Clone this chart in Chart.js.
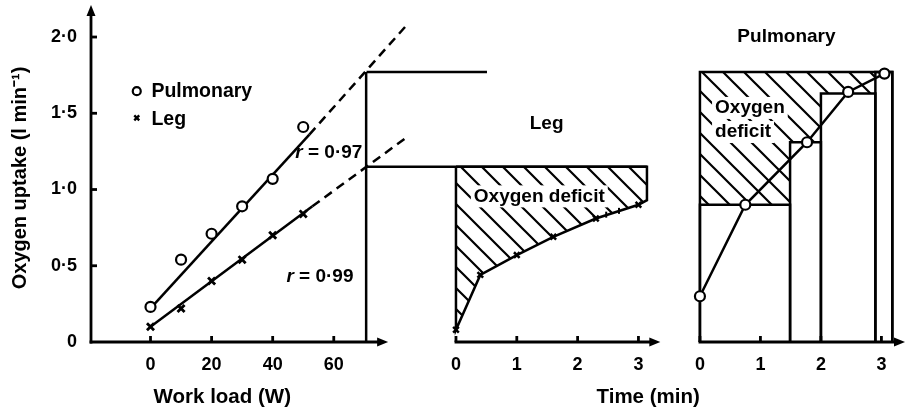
<!DOCTYPE html>
<html><head><meta charset="utf-8">
<script src="https://cdn.jsdelivr.net/npm/chart.js@4.4.1/dist/chart.umd.min.js"></script>
<style>html,body{margin:0;padding:0;background:#fff;} #wrap{width:913px;height:407px;position:relative}</style>
</head><body><div id="wrap"><canvas id="c" width="913" height="407"></canvas></div>
<script>
// ---------- values ----------
// Left panel: oxygen uptake vs work load
const workLoad     = [0, 10, 20, 30, 40, 50];
const pulmUptakeW  = [0.23, 0.54, 0.71, 0.89, 1.07, 1.41];
const legUptakeW   = [0.10, 0.22, 0.40, 0.54, 0.70, 0.84];
// regression lines (solid part then dashed extrapolation)
const pulmFitW     = [0, 52, 84.4];
const pulmFitV     = [0.22, 1.36, 2.09];
const legFitW      = [0, 53, 84.4];
const legFitV      = [0.10, 0.89, 1.35];
// work-load step and steady states
const stepLoad     = 70.6;
const pulmSteady   = 1.77;
const legSteady    = 1.15;

// Middle panel: leg oxygen uptake vs time (min)
const legTime      = [0, 0.4, 1.0, 1.6, 2.3, 3.0];
const legUptakeT   = [0.08, 0.44, 0.57, 0.69, 0.81, 0.90];
const legMinorTime = [2.47, 2.68];
const legMinorV    = [0.835, 0.86];
const legBoxEndT   = 3.14;
const legBoxEndV   = 0.93;
const steadyStartT = -1.47;   // where the steady-state lines leave the step
const pulmSteadyEndT = 0.51;

// Right panel: pulmonary oxygen uptake vs time (min)
const pulmTime     = [0, 0.75, 1.77, 2.45, 3.05];
const pulmUptakeT  = [0.30, 0.90, 1.31, 1.64, 1.76];
const stepEdges    = [0, 1.49, 2.0, 2.9, 3.18];
const stepLevels   = [0.90, 1.31, 1.63, 1.77];

// ticks
const yTicks       = [0, 0.5, 1.0, 1.5, 2.0];
const yTickLabels  = ['0', '0·5', '1·0', '1·5', '2·0'];
const workTicks    = [0, 20, 40, 60];
const timeTicks    = [0, 1, 2, 3];

// ---------- helpers ----------
const FAM = '"Liberation Sans", Arial, Helvetica, sans-serif';
const pts = (xs, ys) => xs.map((x, i) => ({x, y: ys[i]}));

function hatchPattern() {
  const s = 21, c = document.createElement('canvas');
  c.width = s; c.height = s;
  const g = c.getContext('2d');
  g.strokeStyle = '#000'; g.lineWidth = 2.2;
  g.beginPath();
  g.moveTo(-2, -2); g.lineTo(s + 2, s + 2);
  g.moveTo(s - 3, -3); g.lineTo(s + 3, 3);
  g.moveTo(-3, s - 3); g.lineTo(3, s + 3);
  g.stroke();
  return g.createPattern(c, 'repeat');
}
const HATCH = hatchPattern();

const lineDS = (axis, data, extra) => Object.assign({
  xAxisID: axis, yAxisID: 'y', data, showLine: true, borderColor: '#000',
  borderWidth: 2.5, pointRadius: 0, fill: false, tension: 0, order: 1, clip: false
}, extra || {});

// leg deficit polygon (closed)
const legCurve = pts(legTime, legUptakeT);
const legPoly = [{x: 0, y: legSteady}, {x: legBoxEndT, y: legSteady}, {x: legBoxEndT, y: legBoxEndV}]
  .concat(legCurve.slice().reverse()).concat([{x: 0, y: legSteady}]);

// pulmonary deficit polygon (above the steps)
const pulmPoly = [{x: 0, y: pulmSteady}, {x: stepEdges[stepEdges.length - 2], y: pulmSteady}];
for (let i = stepLevels.length - 2; i >= 0; i--) {
  pulmPoly.push({x: stepEdges[i + 1], y: stepLevels[i]});
  pulmPoly.push({x: stepEdges[i], y: stepLevels[i]});
}
pulmPoly.push({x: 0, y: pulmSteady});

const rectSets = stepLevels.map((h, i) => lineDS('x3', [
  {x: stepEdges[i], y: 0}, {x: stepEdges[i], y: h},
  {x: stepEdges[i + 1], y: h}, {x: stepEdges[i + 1], y: 0}]));

const datasets = [
  // markers (drawn on top)
  lineDS('x1', pts(workLoad, pulmUptakeW), {showLine: false, pointStyle: 'circle', pointRadius: 5,
    pointBackgroundColor: '#fff', pointBorderColor: '#000', pointBorderWidth: 2.2, order: 0}),
  lineDS('x1', pts(workLoad, legUptakeW), {showLine: false, pointStyle: 'crossRot', pointRadius: 5,
    pointBorderColor: '#000', pointBorderWidth: 2.8, order: 0}),
  lineDS('x2', legCurve, {showLine: false, pointStyle: 'crossRot', pointRadius: 4,
    pointBorderColor: '#000', pointBorderWidth: 2.5, order: 0}),
  lineDS('x2', pts(legMinorTime, legMinorV), {showLine: false, pointStyle: 'line', rotation: 90, pointRadius: 3,
    pointBorderColor: '#000', pointBorderWidth: 2, order: 0}),
  lineDS('x3', pts(pulmTime, pulmUptakeT), {pointStyle: 'circle', pointRadius: 5,
    pointBackgroundColor: '#fff', pointBorderColor: '#000', pointBorderWidth: 2.2, order: 0}),
  // regression lines
  lineDS('x1', pts(pulmFitW.slice(0, 2), pulmFitV.slice(0, 2))),
  lineDS('x1', pts(pulmFitW.slice(1), pulmFitV.slice(1)), {borderDash: [9, 6]}),
  lineDS('x1', pts(legFitW.slice(0, 2), legFitV.slice(0, 2))),
  lineDS('x1', pts(legFitW.slice(1), legFitV.slice(1)), {borderDash: [9, 6]}),
  // step in work load
  lineDS('x1', [{x: stepLoad, y: 0}, {x: stepLoad, y: pulmSteady}]),
  lineDS('x2', [{x: steadyStartT, y: pulmSteady}, {x: pulmSteadyEndT, y: pulmSteady}]),
  lineDS('x2', [{x: steadyStartT, y: legSteady}, {x: legBoxEndT, y: legSteady}]),
  // leg oxygen deficit
  lineDS('x2', legPoly, {fill: 'shape', backgroundColor: HATCH, order: 2}),
  // pulmonary panel
  lineDS('x3', [{x: 0, y: 0}, {x: 0, y: pulmSteady}, {x: stepEdges[stepEdges.length - 1], y: pulmSteady},
    {x: stepEdges[stepEdges.length - 1], y: 0}]),
  ...rectSets,
  lineDS('x3', pulmPoly, {fill: 'shape', backgroundColor: HATCH, borderWidth: 0, order: 3})
];

// positions of annotations / axis ends (layout, not data)
const axisEnds = {yTop: 2.21, x1End: 77.8, x2End: 3.36, x3End: 3.39};

const tickFont = {family: FAM, size: 18, weight: 'bold'};
function xScale(min, max, weight, ticks) {
  return {
    type: 'linear', axis: 'x', position: 'bottom', stack: 'panels', stackWeight: weight,
    min, max,
    afterBuildTicks: s => { s.ticks = ticks.map(v => ({value: v})); },
    afterFit: s => { s.height = 65; s.paddingLeft = 0; s.paddingRight = 0; },
    grid: {display: false, drawTicks: false}, border: {display: false},
    ticks: {padding: 12, font: tickFont, color: '#000', maxRotation: 0, autoSkip: false}
  };
}

const overlay = {
  id: 'overlay',
  beforeDatasetsDraw(chart) {
    const {ctx, chartArea} = chart;
    const {y, x1, x2, x3} = chart.scales;
    const y0 = y.getPixelForValue(0);
    ctx.save();
    ctx.strokeStyle = '#000'; ctx.fillStyle = '#000'; ctx.lineWidth = 2.8; ctx.lineCap = 'butt';
    const seg = (a, b, c, d) => { ctx.beginPath(); ctx.moveTo(a, b); ctx.lineTo(c, d); ctx.stroke(); };
    const arrowUp = (x, tip) => { ctx.beginPath(); ctx.moveTo(x, tip); ctx.lineTo(x - 4.5, tip + 11); ctx.lineTo(x + 4.5, tip + 11); ctx.closePath(); ctx.fill(); };
    const arrowRight = (tip, yy) => { ctx.beginPath(); ctx.moveTo(tip, yy); ctx.lineTo(tip - 11, yy - 4.5); ctx.lineTo(tip - 11, yy + 4.5); ctx.closePath(); ctx.fill(); };
    // y axis
    const lx = chartArea.left;
    const yTip = y.getPixelForValue(axisEnds.yTop);
    seg(lx, y0 + 1.4, lx, yTip + 8);
    arrowUp(lx, yTip);
    yTicks.forEach(v => { if (v > 0) { const p = y.getPixelForValue(v); seg(lx, p, lx + 6, p); } });
    // x axes
    const xa = (sc, start, end, ticks) => {
      const s = start === null ? lx : sc.getPixelForValue(start);
      const e = sc.getPixelForValue(end);
      seg(s - 1.4, y0, e - 8, y0);
      arrowRight(e, y0);
      ticks.forEach(v => { const p = sc.getPixelForValue(v); seg(p, y0, p, y0 - 6); });
    };
    xa(x1, null, axisEnds.x1End, workTicks);
    xa(x2, 0, axisEnds.x2End, timeTicks);
    xa(x3, 0, axisEnds.x3End, timeTicks);
    ctx.restore();
  },
  afterDatasetsDraw(chart) {
    const {ctx} = chart;
    const {y, x1, x2, x3} = chart.scales;
    ctx.save();
    ctx.fillStyle = '#000'; ctx.textBaseline = 'middle';
    const font = (sz, it) => (it ? 'italic ' : '') + 'bold ' + sz + 'px ' + FAM;
    const text = (s, px, py, align, sz, knock) => {
      ctx.font = font(sz || 19);
      ctx.textAlign = align || 'center';
      if (knock) {
        const w = ctx.measureText(s).width;
        const l = align === 'left' ? px : (align === 'right' ? px - w : px - w / 2);
        ctx.fillStyle = '#fff'; ctx.fillRect(l - 3, py - 11, w + 6, 22); ctx.fillStyle = '#000';
      }
      ctx.fillText(s, px, py);
    };
    const rLabel = (val, px, py) => {
      ctx.textAlign = 'left';
      ctx.font = font(19, true); ctx.fillText('r', px, py);
      const w = ctx.measureText('r').width;
      ctx.font = font(19); ctx.fillText(' = ' + val, px + w, py);
    };
    // legend
    ctx.strokeStyle = '#000';
    ctx.fillStyle = '#fff';
    Chart.helpers.drawPoint(ctx, {pointStyle: 'circle', radius: 4, borderWidth: 2, rotation: 0}, x1.getPixelForValue(-4.5), y.getPixelForValue(1.645));
    ctx.lineWidth = 2.4;
    Chart.helpers.drawPoint(ctx, {pointStyle: 'crossRot', radius: 3.5, borderWidth: 2.4, rotation: 0}, x1.getPixelForValue(-4.5), y.getPixelForValue(1.47));
    ctx.fillStyle = '#000';
    text('Pulmonary', x1.getPixelForValue(0.3), y.getPixelForValue(1.645), 'left', 19.5);
    text('Leg', x1.getPixelForValue(0.3), y.getPixelForValue(1.46), 'left', 19.5);
    // r values
    rLabel('0·97', x1.getPixelForValue(47.4), y.getPixelForValue(1.24));
    rLabel('0·99', x1.getPixelForValue(44.5), y.getPixelForValue(0.43));
    // panel labels
    text('Leg', x2.getPixelForValue(1.49), y.getPixelForValue(1.43));
    text('Oxygen deficit', x2.getPixelForValue(1.37), y.getPixelForValue(0.955), 'center', 19, true);
    text('Pulmonary', x3.getPixelForValue(1.43), y.getPixelForValue(2.0));
    text('Oxygen', x3.getPixelForValue(0.25), y.getPixelForValue(1.535), 'left', 19, true);
    text('deficit', x3.getPixelForValue(0.25), y.getPixelForValue(1.377), 'left', 19, true);
    // axis titles
    text('Work load (W)', x1.getPixelForValue(23.5), y.getPixelForValue(-0.36), 'center', 20.5);
    text('Time (min)', x2.getPixelForValue(3.16), y.getPixelForValue(-0.36), 'center', 20.5);
    ctx.restore();
  }
};

new Chart(document.getElementById('c'), {
  type: 'line',
  data: {datasets},
  plugins: [overlay],
  options: {
    responsive: false, animation: false, events: [],
    layout: {padding: {left: 0, top: 14, right: 1, bottom: 0}},
    plugins: {legend: {display: false}, tooltip: {enabled: false}},
    scales: {
      x1: xScale(-19.48, 85.39, 323, workTicks),
      x2: xScale(-0.734, 3.652, 269, timeTicks),
      x3: xScale(-0.361, 3.393, 229, timeTicks),
      y: {
        type: 'linear', position: 'left', min: 0, max: 2.151,
        afterBuildTicks: s => { s.ticks = yTicks.map(v => ({value: v})); },
        afterFit: s => { s.width = 91; s.paddingTop = 0; s.paddingBottom = 0; },
        grid: {display: false, drawTicks: false}, border: {display: false},
        ticks: {padding: 14, font: tickFont, color: '#000', callback: (v, i) => yTickLabels[i]},
        title: {display: true, text: 'Oxygen uptake (l min⁻¹)', color: '#000',
          font: {family: FAM, size: 20, weight: 'bold'}, padding: {top: 8, bottom: 0}}
      }
    }
  }
});
</script>
</body></html>
